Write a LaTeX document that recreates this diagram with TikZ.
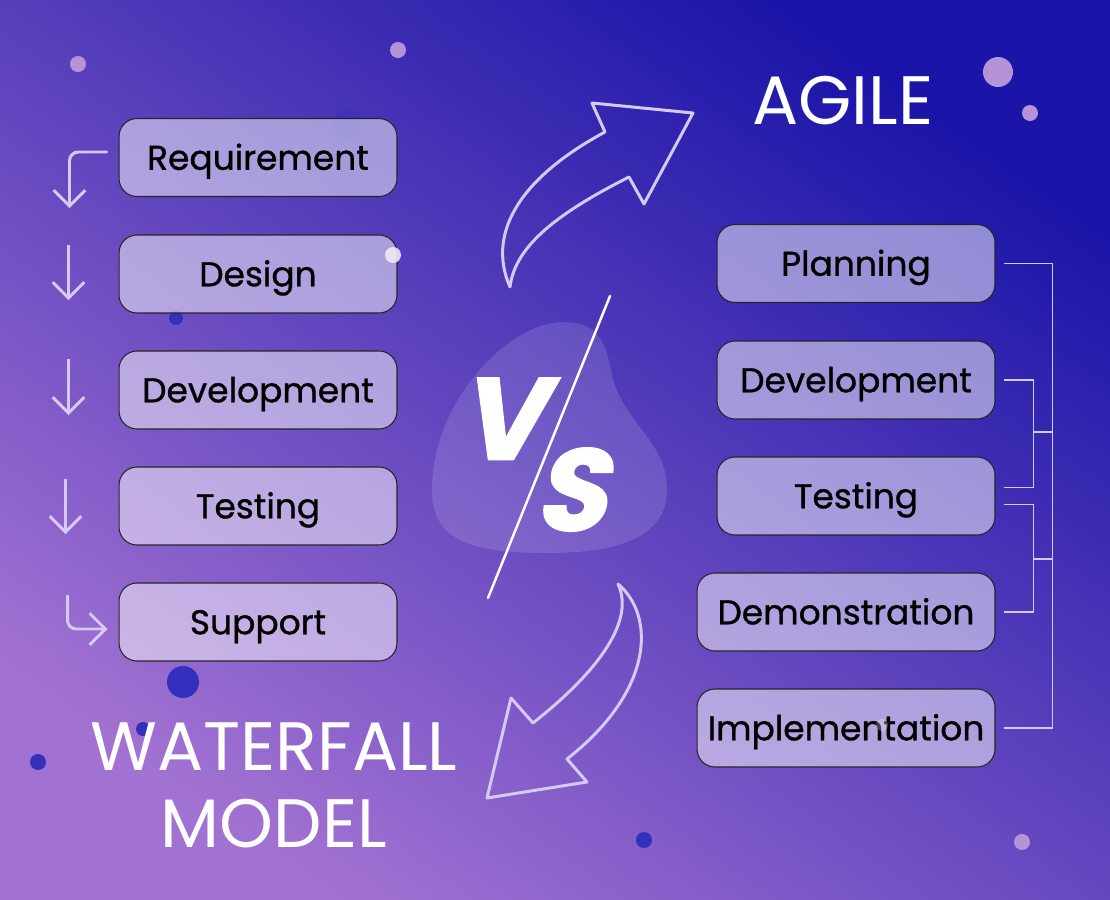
\documentclass[tikz,border=0pt]{standalone}
\usepackage{fontspec}
\setmainfont{Poppins}
\newfontfamily\boxfont[FakeBold=0.9]{Poppins}
\newfontfamily\vsfont[FakeSlant=0.22,FakeBold=1.5]{Poppins}
\usetikzlibrary{arrows.meta}

\definecolor{bgdark}{HTML}{1A14A8}
\definecolor{bgmid}{HTML}{5840BC}
\definecolor{bglight}{HTML}{A272D2}
\definecolor{lilac}{HTML}{D4CAF4}
\definecolor{dotpink}{HTML}{B493D6}
\definecolor{dotblue}{HTML}{3430BE}

\tikzset{
  stage/.style={draw=black!85, line width=0.6pt, rounded corners=0.36cm,
    fill=white, fill opacity=0.5, text opacity=1, text=black,
    minimum width=5.56cm, minimum height=1.56cm, inner sep=0pt,
    text height=14pt, text depth=0pt, font=\boxfont\fontsize{19.6}{24}\selectfont},
  wfarrow/.style={draw=lilac, line width=1.7pt, rounded corners=5pt,
    -{Straight Barb[length=9pt,width=18pt]}},
  bracket/.style={draw=lilac, line width=1.1pt},
  bigarrow/.style={draw=lilac, line width=1.7pt, line join=round},
  title/.style={text=white, inner sep=0pt, align=center,
    font=\fontsize{39}{44}\selectfont},
  vsletter/.style={text=white, inner sep=0pt, text height=46pt, text depth=0pt,
    font=\vsfont\bfseries\fontsize{66}{66}\selectfont}
}

\begin{document}
\begin{tikzpicture}[x=0.02cm,y=-0.02cm]
  \useasboundingbox (0,0) rectangle (1110,900);
  % Background
  \shade[top color=bgdark, middle color=bgmid, bottom color=bglight, shading angle=-35]
    (0,0) rectangle (1110,900);
  % Dots behind
  \fill[dotpink] (78,64) circle (8);
  \fill[dotpink] (398,50) circle (8);
  \fill[dotblue, opacity=0.45] (348,124) circle (15);
  \fill[dotpink] (998,72) circle (15);
  \fill[dotpink] (1030,113) circle (8);
  \fill[dotblue] (176,318) circle (7);
  \fill[dotblue] (183,682) circle (16);
  \fill[dotblue] (143,729) circle (7);
  \fill[dotblue] (38,762) circle (8);
  \fill[dotblue] (644,840) circle (8);
  \fill[dotpink] (1022,842) circle (8);

  % VS blob
  \fill[white, opacity=0.13] (563,322) .. controls (600,322) and (606,345) .. (612,375)
    .. controls (624,425) and (667,440) .. (667,490)
    .. controls (667,545) and (600,553) .. (547,553)
    .. controls (470,553) and (432,540) .. (432,490)
    .. controls (432,400) and (510,322) .. (563,322) -- cycle;
  \node[vsletter] (vletter) at (501,419) {V};
  \node[vsletter] (sletter) at (570,490) {S};
  \draw[white, line width=1.4pt, line cap=round] (610,296) -- (488,598);

  % Waterfall stages
  \node[stage] (req) at (258,157.5) {Requirement};
  \node[stage] (des) at (258,274) {Design};
  \node[stage] (dev) at (258,390) {Development};
  \node[stage] (tst) at (258,506) {Testing};
  \node[stage] (sup) at (258,622) {Support};
  % Waterfall arrows
  \draw[wfarrow] ([xshift=-0.22cm,yshift=0.11cm]req.west) -| ++(-38,56);
  \draw[wfarrow] ([xshift=-1cm,yshift=0.58cm]des.west) -- ++(0,55);
  \draw[wfarrow] ([xshift=-1cm,yshift=0.62cm]dev.west) -- ++(0,56);
  \draw[wfarrow] ([xshift=-1.06cm,yshift=0.54cm]tst.west) -- ++(0,55);
  \draw[wfarrow] ([xshift=-1.02cm,yshift=0.54cm]sup.west) |- ([xshift=-0.22cm,yshift=-0.14cm]sup.west);

  % Agile stages
  \node[stage] (plan) at (856,263.5) {Planning};
  \node[stage] (adev) at (856,380) {Development};
  \node[stage] (atst) at (856,496) {Testing};
  \node[stage, minimum width=5.96cm] (demo) at (846,612) {Demonstration};
  \node[stage, minimum width=5.96cm] (impl) at (846,728) {Implementation};
  % Agile brackets
  \draw[bracket] ([xshift=0.16cm]plan.east) -- ++(49,0) |- ([xshift=0.16cm]impl.east);
  \draw[bracket] ([xshift=0.16cm]adev.east) -- ++(30,0) |- ([xshift=0.16cm,yshift=0.17cm]atst.east);
  \draw[bracket] ([xshift=0.16cm,yshift=-0.17cm]atst.east) -- ++(30,0) |- ([xshift=0.16cm]demo.east);
  \draw[bracket] (1033,432) -- (1052,432);
  \draw[bracket] (1033,559) -- (1052,559);

  % Dots in front
  \fill[white!80!dotpink, opacity=0.9] (393,255) circle (8);
  \fill[white, opacity=0.25] (882,725) circle (6);

  % Curved arrows
  \draw[bigarrow] (510,287) .. controls (485,230) and (525,175) .. (605,132)
    -- (592,103) -- (693,113) -- (644,204) -- (629,177)
    .. controls (560,212) and (515,245) .. (510,287) -- cycle;
  \draw[bigarrow] (618,584) .. controls (655,615) and (655,690) .. (567,759)
    -- (587,782) -- (487,798) -- (511,698) -- (533,723)
    .. controls (600,670) and (635,620) .. (618,584) -- cycle;

  % Titles
  \node[title] (agile) at (843,101) {AGILE};
  \node[title] (waterfall) at (274,785) {WATERFALL\\MODEL};
\end{tikzpicture}
\end{document}
